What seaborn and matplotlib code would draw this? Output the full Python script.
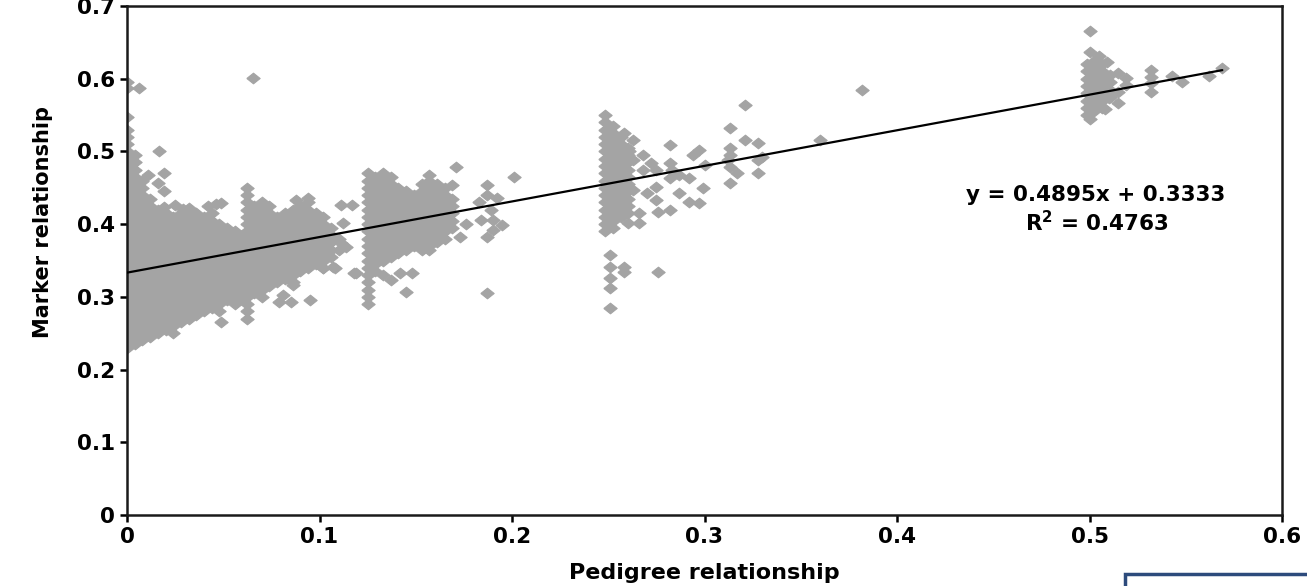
import numpy as np
import pandas as pd
import matplotlib
matplotlib.use('Agg')
import matplotlib.pyplot as plt
import seaborn as sns
from matplotlib.patches import Rectangle

# Pedigree relationship of each dense column of points
dense_x = [0.000, 0.004, 0.008, 0.012, 0.016, 0.020, 0.024, 0.028, 0.032, 0.036,
           0.040, 0.044, 0.048, 0.052, 0.056, 0.060, 0.0625, 0.066, 0.070, 0.074,
           0.078, 0.082, 0.086, 0.090, 0.094, 0.098, 0.102, 0.106,
           0.125, 0.129, 0.133, 0.137, 0.141, 0.145, 0.149, 0.153, 0.157, 0.161,
           0.165, 0.169,
           0.2485, 0.2525, 0.2565, 0.2605,
           0.4985, 0.5025, 0.5065, 0.5105]

# Marker relationship (hundredths) read for each dense column
dense_y = [
    [23, 24, 25, 26, 27, 28, 29, 30, 31, 32, 33, 34, 35, 36, 37, 38, 39, 40, 41, 42, 43, 44, 45, 46, 47, 48, 49, 50, 51, 52, 53],
    [23.5, 24.5, 25.5, 26.5, 27.5, 28.5, 29.5, 30.5, 31.5, 32.5, 33.5, 34.5, 35.5, 36.5, 37.5, 38.5, 39.5, 40.5, 41.5, 42.5, 43.5, 44.5, 45.5, 46.5, 47.5, 48.5, 49.5],
    [24, 25, 26, 27, 28, 29, 30, 31, 32, 33, 34, 35, 36, 37, 38, 39, 40, 41, 42, 43, 44, 45, 46],
    [24.5, 25.5, 26.5, 27.5, 28.5, 29.5, 30.5, 31.5, 32.5, 33.5, 34.5, 35.5, 36.5, 37.5, 38.5, 39.5, 40.5, 41.5, 42.5, 43.5],
    [25, 26, 27, 28, 29, 30, 31, 32, 33, 34, 35, 36, 37, 38, 39, 40, 41, 42],
    [25.5, 26.5, 27.5, 28.5, 29.5, 30.5, 31.5, 32.5, 33.5, 34.5, 35.5, 36.5, 37.5, 38.5, 39.5, 40.5, 41.5],
    [25, 26, 27, 28, 29, 30, 31, 32, 33, 34, 35, 36, 37, 38, 39, 40, 41],
    [26.5, 27.5, 28.5, 29.5, 30.5, 31.5, 32.5, 33.5, 34.5, 35.5, 36.5, 37.5, 38.5, 39.5, 40.5, 41.5],
    [27, 28, 29, 30, 31, 32, 33, 34, 35, 36, 37, 38, 39, 40, 41, 42],
    [27.5, 28.5, 29.5, 30.5, 31.5, 32.5, 33.5, 34.5, 35.5, 36.5, 37.5, 38.5, 39.5, 40.5, 41.5],
    [28, 29, 30, 31, 32, 33, 34, 35, 36, 37, 38, 39, 40, 41],
    [28.5, 29.5, 30.5, 31.5, 32.5, 33.5, 34.5, 35.5, 36.5, 37.5, 38.5, 39.5, 40.5, 41.5],
    [28, 29, 30, 31, 32, 33, 34, 35, 36, 37, 38, 39, 40],
    [29.5, 30.5, 31.5, 32.5, 33.5, 34.5, 35.5, 36.5, 37.5, 38.5, 39.5],
    [29, 30, 31, 32, 33, 34, 35, 36, 37, 38, 39],
    [29.5, 30.5, 31.5, 32.5, 33.5, 34.5, 35.5, 36.5, 37.5, 38.5],
    [27, 28, 29, 30, 31, 32, 33, 34, 35, 36, 37, 38, 39, 40, 41, 42, 43, 44, 45],
    [30.5, 31.5, 32.5, 33.5, 34.5, 35.5, 36.5, 37.5, 38.5, 39.5, 40.5, 41.5, 42.5],
    [30, 31, 32, 33, 34, 35, 36, 37, 38, 39, 40, 41, 42, 43],
    [31.5, 32.5, 33.5, 34.5, 35.5, 36.5, 37.5, 38.5, 39.5, 40.5, 41.5, 42.5],
    [32, 33, 34, 35, 36, 37, 38, 39, 40, 41],
    [32.5, 33.5, 34.5, 35.5, 36.5, 37.5, 38.5, 39.5, 40.5, 41.5],
    [32, 33, 34, 35, 36, 37, 38, 39, 40, 41, 42],
    [33.5, 34.5, 35.5, 36.5, 37.5, 38.5, 39.5, 40.5, 41.5, 42.5],
    [34, 35, 36, 37, 38, 39, 40, 41, 42, 43],
    [34.5, 35.5, 36.5, 37.5, 38.5, 39.5, 40.5, 41.5],
    [34, 35, 36, 37, 38, 39, 40, 41],
    [35.5, 36.5, 37.5, 38.5, 39.5],
    [29, 30, 31, 32, 33, 34, 35, 36, 37, 38, 39, 40, 41, 42, 43, 44, 45, 46, 47],
    [33.5, 34.5, 35.5, 36.5, 37.5, 38.5, 39.5, 40.5, 41.5, 42.5, 43.5, 44.5, 45.5, 46.5],
    [35, 36, 37, 38, 39, 40, 41, 42, 43, 44, 45, 46, 47],
    [35.5, 36.5, 37.5, 38.5, 39.5, 40.5, 41.5, 42.5, 43.5, 44.5, 45.5, 46.5],
    [36, 37, 38, 39, 40, 41, 42, 43, 44, 45],
    [36.5, 37.5, 38.5, 39.5, 40.5, 41.5, 42.5, 43.5, 44.5],
    [37, 38, 39, 40, 41, 42, 43, 44],
    [36.5, 37.5, 38.5, 39.5, 40.5, 41.5, 42.5, 43.5, 44.5, 45.5],
    [37, 38, 39, 40, 41, 42, 43, 44, 45, 46],
    [37.5, 38.5, 39.5, 40.5, 41.5, 42.5, 43.5, 44.5, 45.5],
    [38, 39, 40, 41, 42, 43, 44, 45],
    [39.5, 40.5, 41.5, 42.5, 43.5],
    [39, 40, 41, 42, 43, 44, 45, 46, 47, 48, 49, 50, 51, 52, 53, 54, 55],
    [39.5, 40.5, 41.5, 42.5, 43.5, 44.5, 45.5, 46.5, 47.5, 48.5, 49.5, 50.5, 51.5, 52.5, 53.5],
    [41, 42, 43, 44, 45, 46, 47, 48, 49, 50, 51, 52],
    [41.5, 42.5, 43.5, 44.5, 45.5, 46.5, 47.5, 48.5, 49.5, 50.5],
    [55, 56, 57, 58, 59, 60, 61, 62],
    [55.5, 56.5, 57.5, 58.5, 59.5, 60.5, 61.5, 62.5],
    [56, 57, 58, 59, 60, 61, 62],
    [57.5, 58.5, 59.5, 60.5],
]

# Scattered single points: pedigree relationship and marker relationship (hundredths)
single_x = [0.0, 0.0, 0.006, 0.0, 0.0654,
            0.0166, 0.011, 0.019, 0.016, 0.019, 0.011, 0.019, 0.025, 0.029, 0.032,
            0.042, 0.046, 0.049, 0.049,
            0.088, 0.094, 0.111, 0.117, 0.112, 0.111, 0.114, 0.108, 0.118, 0.107,
            0.119, 0.081, 0.085, 0.086, 0.095, 0.079, 0.102, 0.110, 0.110,
            0.171, 0.201, 0.187, 0.187, 0.192, 0.183, 0.189, 0.184, 0.190, 0.195,
            0.190, 0.187, 0.187, 0.157, 0.169, 0.173, 0.157, 0.148, 0.145, 0.137,
            0.142, 0.133, 0.176,
            0.251, 0.251, 0.258, 0.258, 0.251, 0.251, 0.251, 0.276,
            0.258, 0.263, 0.261, 0.268, 0.263, 0.272, 0.268, 0.275, 0.282, 0.282,
            0.283, 0.287, 0.282, 0.292, 0.297, 0.294, 0.300, 0.299, 0.287, 0.292,
            0.297, 0.282, 0.276, 0.266, 0.260, 0.266, 0.275, 0.270, 0.263, 0.275,
            0.313, 0.321, 0.313, 0.313, 0.312, 0.313, 0.317, 0.313, 0.321, 0.328,
            0.328, 0.330, 0.328, 0.360, 0.382,
            0.500, 0.500, 0.505, 0.509, 0.500, 0.508, 0.515, 0.515, 0.519, 0.519,
            0.515, 0.510, 0.532, 0.532, 0.532, 0.532, 0.543, 0.548, 0.562, 0.569]
single_y = [59.6, 58.7, 58.7, 54.8, 60.1,
            50.0, 46.8, 47.0, 45.7, 44.5, 42.7, 42.3, 42.7, 42.1, 42.2,
            42.5, 42.8, 42.9, 26.5,
            43.3, 43.6, 42.6, 42.6, 40.1, 37.4, 36.9, 34.0, 33.3, 34.1,
            33.3, 30.3, 29.3, 31.6, 29.6, 29.3, 34.0, 38.0, 36.5,
            47.9, 46.5, 45.4, 44.0, 43.6, 43.0, 42.0, 40.6, 40.6, 39.9,
            39.2, 38.3, 30.5, 46.8, 45.4, 38.3, 36.4, 33.3, 30.7, 32.3,
            33.3, 33.0, 40.0,
            35.7, 34.1, 34.1, 33.4, 32.6, 31.2, 28.5, 33.4,
            52.5, 51.6, 50.0, 49.5, 48.8, 48.4, 47.5, 47.5, 50.9, 48.4,
            47.5, 46.8, 46.3, 46.3, 50.2, 49.5, 48.1, 45.0, 44.3, 43.0,
            42.9, 42.0, 41.7, 41.5, 40.2, 40.2, 43.3, 44.3, 44.7, 45.1,
            53.2, 56.4, 50.5, 49.5, 48.8, 47.9, 47.0, 45.7, 51.6, 51.2,
            48.8, 49.3, 47.0, 51.6, 58.5,
            66.5, 63.7, 63.1, 62.3, 54.5, 55.8, 56.7, 60.8, 60.1, 59.1,
            58.2, 57.4, 61.2, 60.3, 59.4, 58.2, 60.4, 59.5, 60.4, 61.5]

# Fitted trend line from the chart
slope = 0.4895
intercept = 0.3333
r_squared = 0.4763
fit_x = [0.0, 0.569]

x_ticks = [0, 0.1, 0.2, 0.3, 0.4, 0.5, 0.6]
x_tick_labels = ['0', '0.1', '0.2', '0.3', '0.4', '0.5', '0.6']
y_ticks = [0, 0.1, 0.2, 0.3, 0.4, 0.5, 0.6, 0.7]
y_tick_labels = ['0', '0.1', '0.2', '0.3', '0.4', '0.5', '0.6', '0.7']

pedigree = [x for x, ys in zip(dense_x, dense_y) for _ in ys] + single_x
marker = [y / 100 for ys in dense_y for y in ys] + [y / 100 for y in single_y]
points = pd.DataFrame({'Pedigree': pedigree, 'Marker': marker})
fit = pd.DataFrame({'Pedigree': fit_x,
                    'Marker': [slope * x + intercept for x in fit_x]})

sns.set_style('ticks')
plt.rcParams['font.family'] = ['DejaVu Sans']
plt.rcParams['font.weight'] = 'bold'
plt.rcParams['text.color'] = 'black'
plt.rcParams['axes.labelcolor'] = 'black'

fig = plt.figure(figsize=(13.07, 5.86), dpi=100)
ax = fig.add_axes([127 / 1307, 1 - 515 / 586, (1282 - 127) / 1307, (515 - 6) / 586])

diamond = [(-1, 0), (0, 0.8), (1, 0), (0, -0.8), (-1, 0)]
sns.scatterplot(data=points, x='Pedigree', y='Marker', ax=ax, marker=diamond,
                s=92, color='#a4a4a4', edgecolor='#a4a4a4', linewidth=0.8, zorder=2)
sns.lineplot(data=fit, x='Pedigree', y='Marker', ax=ax, color='black',
             linewidth=1.6, zorder=3)

ax.set_xlim(0, 0.6)
ax.set_ylim(0, 0.7)
ax.set_xticks(x_ticks)
ax.set_xticklabels(x_tick_labels)
ax.set_yticks(y_ticks)
ax.set_yticklabels(y_tick_labels)
ax.tick_params(direction='out', length=5, width=1.8, labelsize=15.5,
               colors='black')
for spine in ax.spines.values():
    spine.set_visible(True)
    spine.set_linewidth(1.8)
    spine.set_color('#1a1a1a')

ax.set_xlabel('Pedigree relationship', fontsize=16, fontweight='bold', labelpad=12)
ax.set_ylabel('Marker relationship', fontsize=15, fontweight='bold')
ax.yaxis.set_label_coords(-0.064, 0.576)

ax.text(0.503, 0.44, 'y = 0.4895x + 0.3333', ha='center', va='center',
        fontsize=15.5, fontweight='bold')
ax.text(0.504, 0.402, r'R$^{\mathbf{2}}$ = ' + f'{r_squared:.4f}', ha='center', va='center',
        fontsize=15.5, fontweight='bold')

# strip of a navy frame at the lower right edge of the image
fig.add_artist(Rectangle((1125 / 1307, -0.01), 190 / 1307, 0.03, transform=fig.transFigure,
                         facecolor='white', edgecolor='#2d4b7c', linewidth=2.5))

fig.savefig('out.png', dpi=100)
